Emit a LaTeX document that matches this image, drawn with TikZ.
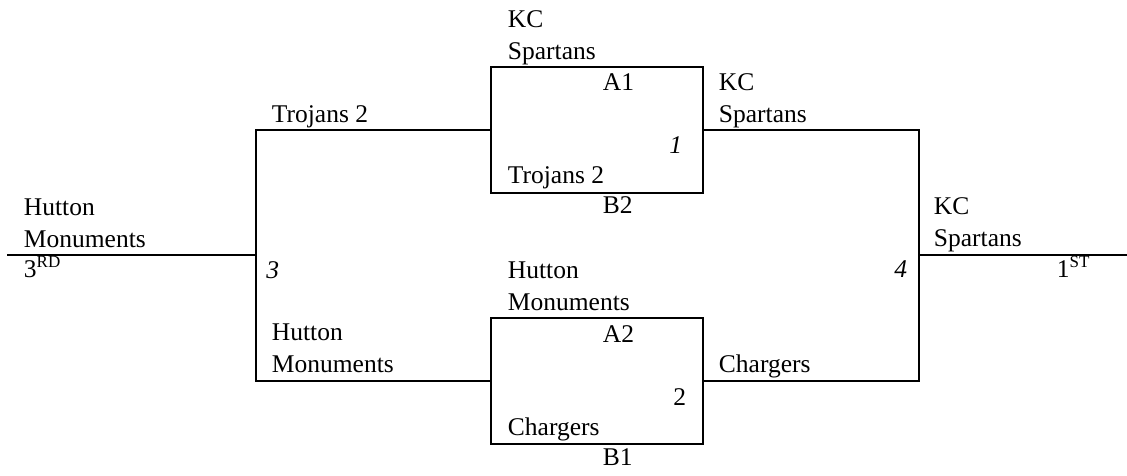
\documentclass[tikz,border=0pt]{standalone}
\usepackage{fontspec}
\setmainfont{Liberation Serif}
\usepackage{tikz}

\newcommand{\bracketfont}{\fontsize{12}{14.6}\selectfont}
\tikzset{
  game/.style={draw, rectangle, minimum width=99.8pt, minimum height=59.1pt, inner sep=0pt},
  team/.style={anchor=base west, inner sep=0pt, align=left},
  seed/.style={anchor=base west, inner sep=0pt},
  gameno/.style={anchor=base east, inner sep=0pt, font=\bracketfont\itshape}
}

\begin{document}
\begin{tikzpicture}[x=0.4706pt, y=-0.4706pt, line width=0.9pt,
    every node/.style={font=\bracketfont}]
    \useasboundingbox (0,0) rectangle (1127,475);
    % the two first games
    \node[game] (g1) at (597,130) {};
    \node[game] (g2) at (597,381) {};
    \coordinate (j3) at (256,255);
    \coordinate (j4) at (919,255);
    \coordinate (end3) at (7,255);
    \coordinate (end1) at (1127,255);
    % the bracket lines
    \draw (g1.west) -| (j3) |- (g2.west);
    \draw (g1.east) -| (j4) |- (g2.east);
    \draw (end3) -- (j3);
    \draw (j4) -- (end1);
    % game 1 (base of a two-line label = its last line)
    \node[team] (t1) at (507,59) {KC\\Spartans};
    \node[seed] (a1) at (602,90) {A1};
    \node[gameno] (n1) at (683,153) {1};
    \node[team] (t2) at (507,183) {Trojans 2};
    \node[seed] (b2) at (602,213) {B2};
    % game 2
    \node[team] (t3) at (507,310) {Hutton\\Monuments};
    \node[seed] (a2) at (602,342) {A2};
    \node[gameno, font=\bracketfont] (n2) at (687,405) {2};
    \node[team] (t4) at (507,435) {Chargers};
    \node[seed] (b1) at (602,465) {B1};
    % game 3
    \node[team] (l1) at (271,122) {Trojans 2};
    \node[team] (l2) at (271,372) {Hutton\\Monuments};
    \node[gameno] (n3) at (280,278) {3};
    \node[team] (r3) at (23,247) {Hutton\\Monuments};
    \node[seed] (p3) at (23,277) {3\textsuperscript{RD}};
    % game 4
    \node[team] (w1) at (718,122) {KC\\Spartans};
    \node[team] (w2) at (718,372) {Chargers};
    \node[gameno] (n4) at (908,277) {4};
    \node[team] (r1) at (933,246) {KC\\Spartans};
    \node[seed] (p1) at (1056,277) {1\textsuperscript{ST}};
\end{tikzpicture}
\end{document}
